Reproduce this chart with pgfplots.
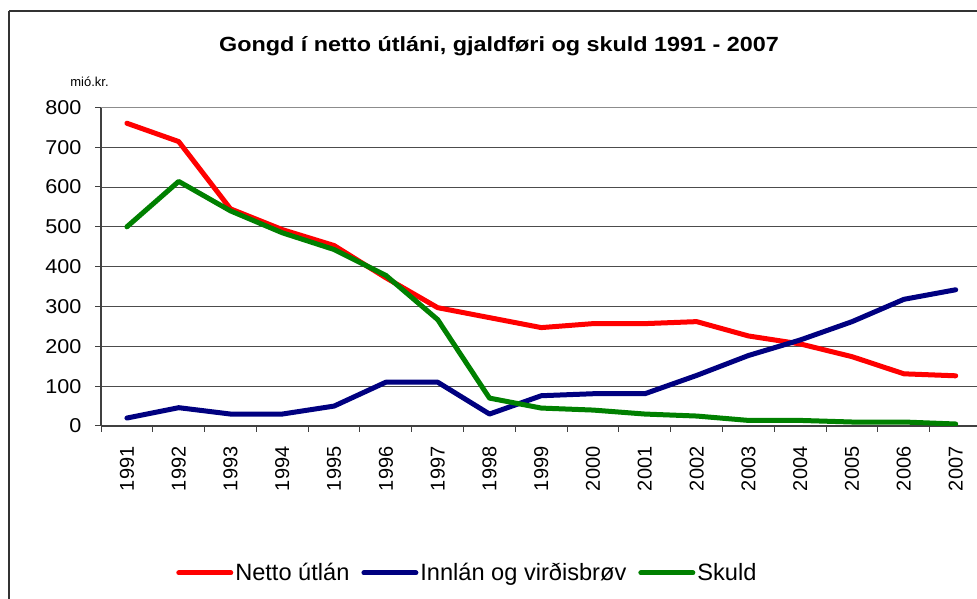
\documentclass[border=0pt]{standalone}
\usepackage{fontspec}
\setmainfont{Liberation Sans}
\usepackage{graphicx}
\usepackage{pgfplots}
\pgfplotsset{compat=1.18}
\definecolor{cred}{RGB}{255,0,0}
\definecolor{cblue}{RGB}{0,0,128}
\definecolor{cgreen}{RGB}{0,128,0}
\begin{document}
\begin{tikzpicture}[x=1pt,y=1pt]
\useasboundingbox (0,0) rectangle (977,599);
\fill[white] (0,0) rectangle (977,599);
\draw[black!80, line width=1.2pt] (9,588) -- (1000,588);
\draw[black!80, line width=1.2pt] (9,588) -- (9,-10);
\node[font=\bfseries\fontsize{20.5}{21}\selectfont, anchor=base] at (499,547) {\scalebox{1.14}[1]{Gongd í netto útláni, gjaldføri og skuld 1991 - 2007}};
\node[font=\fontsize{13}{13}\selectfont, anchor=base] at (89.5,512) {mió.kr.};
\begin{axis}[
  at={(101pt,173pt)}, anchor=south west,
  scale only axis, width=880.6pt, height=318.7pt,
  xmin=1990.5, xmax=2007.5, ymin=0, ymax=800,
  axis x line*=bottom, axis y line*=left,
  axis line style={black!75, line width=1.2pt, -},
  xtick={1991,...,2007},
  minor xtick={1990.5,1991.5,...,2007.5},
  major x tick style={draw=none},
  minor tick length=6pt,
  ytick={0,100,...,800},
  major tick length=6pt,
  tick align=outside,
  tick style={black!75, line width=1pt},
  ymajorgrids, grid style={black!70, line width=0.9pt},
  /pgf/number format/assume math mode=true,
  /pgf/number format/1000 sep={},
  xticklabel style={rotate=90, anchor=east, font=\fontsize{20}{20}\selectfont, xshift=-11pt},
  yticklabel style={font=\fontsize{20}{20}\selectfont, xshift=-10pt},
  yticklabel={\scalebox{1.08}[1]{\pgfmathprintnumber{\tick}}},
  legend style={at={(0.416,-0.461)}, anchor=center, draw=none, fill=none,
    font=\fontsize{23.6}{24}\selectfont, inner sep=0pt,
    /tikz/every even column/.append style={column sep=10pt}},
  legend columns=-1,
  legend image code/.code={\draw[#1, line width=5pt] (0pt,0pt) -- (52pt,0pt);},
  every axis plot/.append style={line width=5pt, line join=round, line cap=round},
]
\draw[black!45, line width=1.2pt] (rel axis cs:0,1) -- (rel axis cs:1,1);
\addplot[cred] coordinates {(1991,760) (1992,714) (1993,545) (1994,493) (1995,453) (1996,372) (1997,297) (1998,272) (1999,247) (2000,257) (2001,257) (2002,262) (2003,226) (2004,206) (2005,174) (2006,131) (2007,126)};
\addlegendentry{Netto útlán}
\addplot[cblue] coordinates {(1991,20) (1992,46) (1993,30) (1994,30) (1995,50) (1996,110) (1997,110) (1998,30) (1999,76) (2000,81) (2001,81) (2002,127) (2003,177) (2004,216) (2005,262) (2006,318) (2007,342)};
\addlegendentry{Innlán og virðisbrøv}
\addplot[cgreen] coordinates {(1991,500) (1992,614) (1993,540) (1994,485) (1995,443) (1996,378) (1997,267) (1998,70) (1999,45) (2000,40) (2001,30) (2002,25) (2003,14) (2004,14) (2005,10) (2006,10) (2007,5)};
\addlegendentry{Skuld}
\end{axis}
\end{tikzpicture}
\end{document}
